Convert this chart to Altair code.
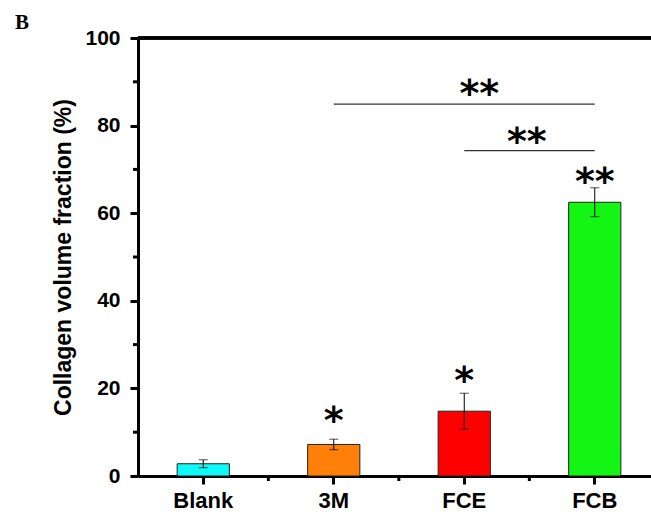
import altair as alt
import pandas as pd

# ---- data ----
groups = ["Blank", "3M", "FCE", "FCB"]
means = [2.8, 7.2, 14.8, 62.5]
errors = [0.9, 1.2, 4.1, 3.3]
colors = ["#10F8F8", "#FF8008", "#FF0000", "#14F514"]

star_groups = ["3M", "FCE", "FCB"]
star_labels = ["*", "*", "**"]
star_y = [13.9, 23.1, 68.5]

bracket_from = ["3M", "FCE"]
bracket_to = ["FCB", "FCB"]
bracket_y = [84.9, 74.3]
bracket_labels = ["**", "**"]
bracket_label_y = [88.6, 77.6]

y_major = [0, 20, 40, 60, 80, 100]
y_minor = [10, 30, 50, 70, 90]
x_minor = ["Blank", "3M", "FCE"]

panel_label = ["B"]

FONT = "Liberation Sans"

bars_df = pd.DataFrame({
    "group": groups,
    "mean": means,
    "lo": [m - e for m, e in zip(means, errors)],
    "hi": [m + e for m, e in zip(means, errors)],
    "color": colors,
})
stars_df = pd.DataFrame({"group": star_groups, "label": star_labels, "y": star_y})
br_df = pd.DataFrame({"a": bracket_from, "b": bracket_to, "y": bracket_y,
                      "label": bracket_labels, "ly": bracket_label_y})
ymin_df = pd.DataFrame({"v": y_minor})
xmin_df = pd.DataFrame({"group": x_minor})
panel_df = pd.DataFrame({"t": panel_label})

# the x axis of the original runs past the right edge of the picture
xscale = alt.Scale(domain=groups, paddingInner=0.6, paddingOuter=0.3, range=[0, 522])
yscale = alt.Scale(domain=[0, 100], nice=False)

x_enc = alt.X("group:N", scale=xscale, sort=groups, title=None,
              axis=alt.Axis(labelAngle=0, labelFont=FONT, labelFontWeight="bold",
                            labelFontSize=22, labelColor="black", labelPadding=6,
                            tickSize=8, tickWidth=3, tickColor="black",
                            domainWidth=3, domainColor="black"))
y_enc = alt.Y("mean:Q", scale=yscale, title="Collagen volume fraction (%)",
              axis=alt.Axis(values=y_major, labelFont=FONT, labelFontWeight="bold",
                            labelFontSize=21, labelColor="black", labelPadding=10,
                            tickSize=8, tickWidth=3, tickColor="black",
                            domainWidth=3, domainColor="black", grid=False,
                            titleFont=FONT, titleFontWeight="bold", titleFontSize=23,
                            titleColor="black", titlePadding=9))

base = alt.Chart(bars_df)

bars = base.mark_bar(stroke="#222222", strokeWidth=1).encode(
    x=x_enc, y=y_enc, color=alt.Color("color:N", scale=None))

xg = alt.X("group:N", scale=xscale, sort=groups)
err_rule = base.mark_rule(color="black", strokeWidth=1).encode(x=xg, y="lo:Q", y2="hi:Q")
cap_lo = base.mark_tick(color="black", thickness=1, size=9, orient="horizontal").encode(x=xg, y="lo:Q")
cap_hi = base.mark_tick(color="black", thickness=1, size=9, orient="horizontal").encode(x=xg, y="hi:Q")

star_font = dict(font="DejaVu Sans", fontSize=38, fontWeight="bold", color="black",
                 baseline="middle", dy=7)

stars = alt.Chart(stars_df).mark_text(**star_font).encode(
    x=xg, y=alt.Y("y:Q", scale=yscale), text="label:N")

brackets = alt.Chart(br_df).mark_rule(color="#333333", strokeWidth=1.3).encode(
    x=alt.X("a:N", scale=xscale, sort=groups), x2="b:N", y=alt.Y("y:Q", scale=yscale))

br_lab1 = alt.Chart(br_df.iloc[[0]]).mark_text(dx=15, **star_font).encode(
    x=alt.datum("FCE", scale=xscale), y=alt.Y("ly:Q", scale=yscale), text="label:N")
br_lab2 = alt.Chart(br_df.iloc[[1]]).mark_text(dx=-68, **star_font).encode(
    x=alt.X("b:N", scale=xscale, sort=groups), y=alt.Y("ly:Q", scale=yscale), text="label:N")

top_line = alt.Chart(bars_df).mark_rule(color="black", strokeWidth=3).encode(
    y=alt.datum(100, scale=yscale))

y_minor_ticks = alt.Chart(ymin_df).mark_rule(color="black", strokeWidth=3).encode(
    y=alt.Y("v:Q", scale=yscale), x=alt.value(0), x2=alt.value(-5))

x_minor_ticks = alt.Chart(xmin_df).mark_rule(color="black", strokeWidth=3,
                                             xOffset=39, y2Offset=5).encode(
    x=alt.X("group:N", scale=xscale, sort=groups, bandPosition=1),
    y=alt.datum(0, scale=yscale), y2=alt.datum(0))

panel = alt.Chart(panel_df).mark_text(font="Liberation Serif", fontSize=21, fontWeight="bold",
                                      color="black", align="left", baseline="alphabetic").encode(
    x=alt.value(-123), y=alt.value(-9), text="t:N")

chart = alt.layer(
    bars, err_rule, cap_lo, cap_hi, stars, brackets, br_lab1, br_lab2,
    top_line, y_minor_ticks, x_minor_ticks, panel
).properties(
    width=513, height=438,
    autosize=alt.AutoSizeParams(type="none"),
    padding={"left": 138, "top": 38, "right": 0, "bottom": 39},
).configure_view(stroke=None).configure(background="white")

chart.save("out.html", embed_options={"renderer": "svg", "actions": False})
